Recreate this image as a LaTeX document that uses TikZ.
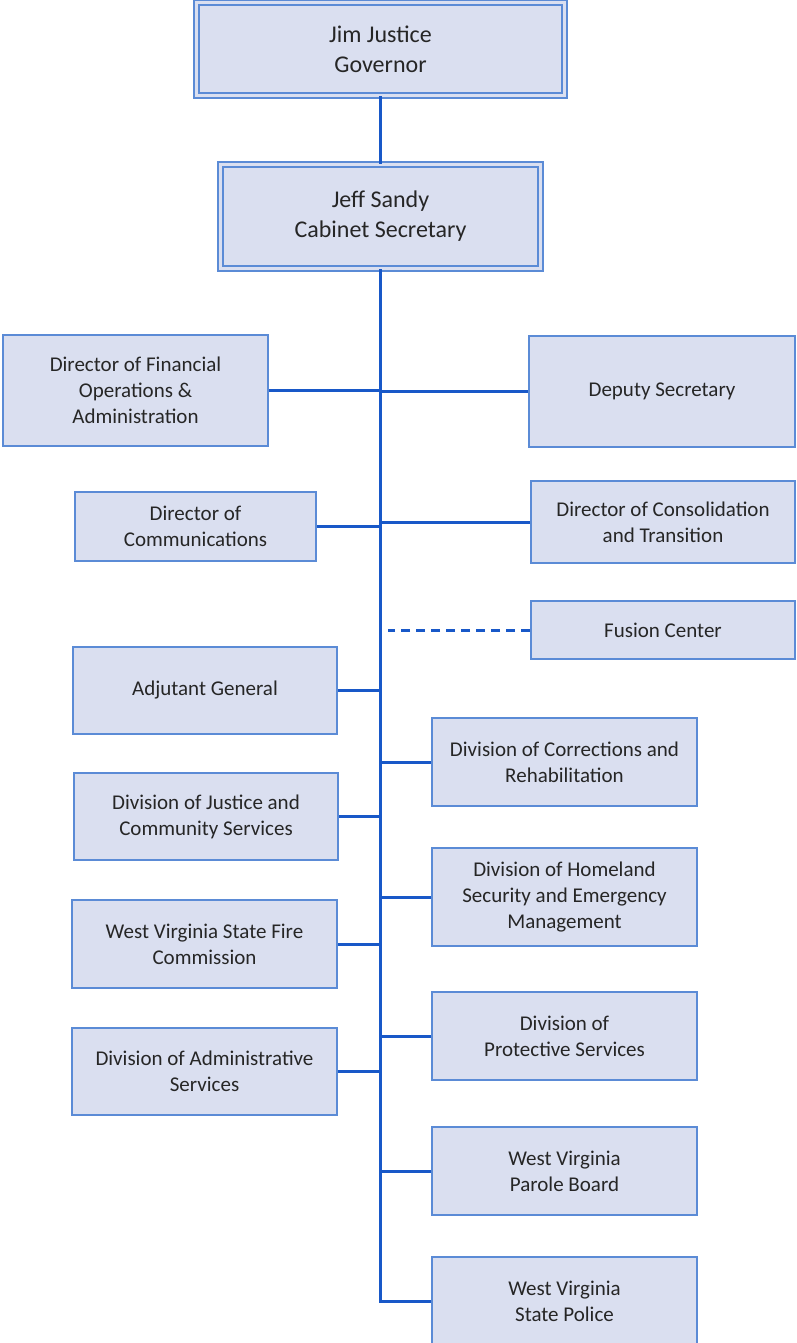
\documentclass[tikz,border=0pt]{standalone}
\usepackage{fontspec}
\setmainfont{Carlito}
\usetikzlibrary{positioning, shadows}

\definecolor{boxfill}{RGB}{218,223,240}
\definecolor{boxline}{RGB}{91,139,214}
\definecolor{connblue}{RGB}{24,88,200}
\definecolor{txtgray}{RGB}{38,38,38}

\begin{document}
\begin{tikzpicture}[
    x=1pt, y=-1pt,
    box/.style={draw=boxline, line width=2pt, fill=boxfill, text=txtgray, align=center,
        inner sep=0pt, font=\fontsize{21}{26}\selectfont},
    topbox/.style={box, line width=1.6pt, double=boxfill, double distance=3pt,
        font=\fontsize{24}{30}\selectfont},
    conn/.style={draw=connblue, line width=3pt},
]
\useasboundingbox (0,0) rectangle (796,1343);
% === Top of the chart ===
\node[topbox, minimum width=368, minimum height=93,
    drop shadow={opacity=0.2, shadow xshift=2pt, shadow yshift=-3pt}]
    (gov) at (380.5,49) {Jim Justice\\Governor};
\node[topbox, minimum width=320, minimum height=104] (sec) at (380.5,216.5) {Jeff Sandy\\Cabinet Secretary};
%
% === Offices left of the trunk ===
\foreach \nm/\cx/\cy/\w/\h/\txt in {
    fin/135.5/390.5/265/111/{Director of Financial\\Operations \&\\Administration},
    comm/195.5/526.5/241/69/{Director of\\Communications},
    adj/205/690.5/264/87/{Adjutant General},
    just/206/816.5/264/87/{Division of Justice and\\Community Services},
    fire/204.5/944/265/88/{West Virginia State Fire\\Commission},
    admin/204.5/1071.5/265/87/{Division of Administrative\\Services}} {
    \node[box, minimum width=\w, minimum height=\h] (\nm) at (\cx,\cy) {\txt};
}
%
% === Offices right of the trunk ===
\foreach \nm/\cx/\cy/\w/\h/\txt in {
    dep/662/391.5/266/111/{Deputy Secretary},
    cons/663/522/264/82/{Director of Consolidation\\and Transition},
    fus/663/630/264/58/{Fusion Center},
    corr/564.5/762/265/88/{Division of Corrections and\\Rehabilitation},
    home/564.5/897/265/98/{Division of Homeland\\Security and Emergency\\Management},
    prot/564.5/1036/265/88/{Division of\\Protective Services},
    parole/564.5/1171/265/88/{West Virginia\\Parole Board},
    police/564.5/1301/265/88/{West Virginia\\State Police}} {
    \node[box, minimum width=\w, minimum height=\h] (\nm) at (\cx,\cy) {\txt};
}
%
% === Trunk ===
\draw[conn] (gov.south) -- (sec.north);
\draw[conn] (sec.south) |- (police.west);
%
% === Branches ===
\foreach \nm in {fin, comm, adj, just, fire, admin} {
    \draw[conn] (\nm.east) -- (\nm.east -| sec.south);
}
\foreach \nm in {dep, cons, corr, home, prot, parole} {
    \draw[conn] (\nm.west) -- (\nm.west -| sec.south);
}
\coordinate (fusend) at (388,630);
\draw[conn, dash pattern=on 9pt off 6pt] (fus.west) -- (fusend);
\end{tikzpicture}
\end{document}
